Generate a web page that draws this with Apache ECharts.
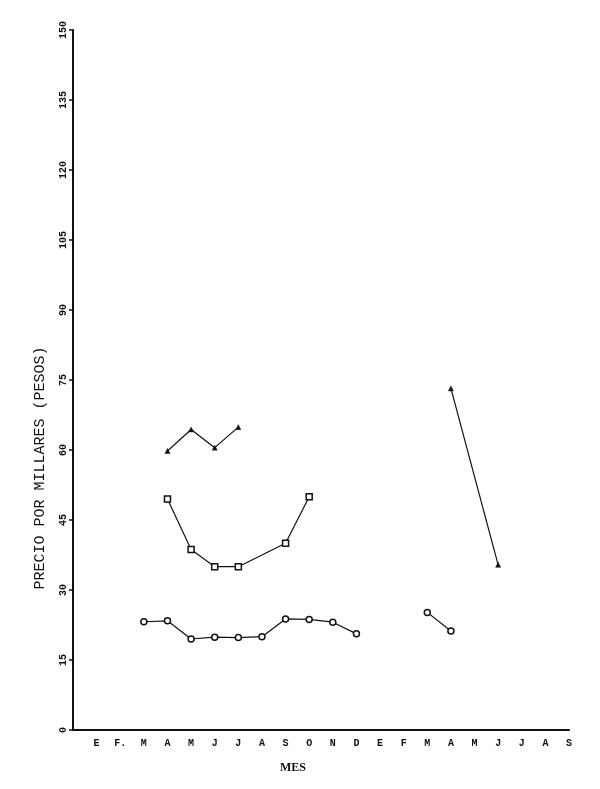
<!DOCTYPE html>
<html>
<head>
<meta charset="utf-8">
<script src="https://cdn.jsdelivr.net/npm/echarts@6/dist/echarts.min.js"></script>
<style>html,body{margin:0;padding:0;background:#fff}#c{width:600px;height:789px}</style>
</head>
<body>
<div id="c"></div>
<script>
const months = ['', 'E', 'F.', 'M', 'A', 'M', 'J', 'J', 'A', 'S', 'O', 'N', 'D', 'E', 'F', 'M', 'A', 'M', 'J', 'J', 'A', 'S'];
const yTicks = [0, 15, 30, 45, 60, 75, 90, 105, 120, 135, 150];
const circlesYear1 = [null, null, null, 23.2, 23.4, 19.5, 19.9, 19.8, 20.0, 23.8, 23.7, 23.1, 20.6, null, null, null, null, null, null, null, null, null];
const circlesYear2 = [null, null, null, null, null, null, null, null, null, null, null, null, null, null, null, 25.2, 21.2, null, null, null, null, null];
const squares = [null, null, null, null, 49.5, 38.7, 35.0, 35.0, null, 40.0, 50.0, null, null, null, null, null, null, null, null, null, null, null];
const trianglesYear1 = [null, null, null, null, 59.8, 64.4, 60.5, 64.9, null, null, null, null, null, null, null, null, null, null, null, null, null, null];
const trianglesYear2 = [null, null, null, null, null, null, null, null, null, null, null, null, null, null, null, null, 73.2, null, 35.4, null, null, null];

const chart = echarts.init(document.getElementById('c'));
const lineBase = {
  type: 'line',
  lineStyle: { color: '#111', width: 1.2 },
  showSymbol: true,
  animation: false
};
const circleStyle = { symbol: 'circle', symbolSize: 6, itemStyle: { color: '#fff', borderColor: '#111', borderWidth: 1.5 } };
const squareStyle = { symbol: 'rect', symbolSize: 6, itemStyle: { color: '#fff', borderColor: '#111', borderWidth: 1.5 } };
const triStyle = { symbol: 'triangle', symbolSize: 5, itemStyle: { color: '#111', borderColor: '#111', borderWidth: 0.5 } };

chart.setOption({
  backgroundColor: '#fff',
  animation: false,
  grid: { left: 73, right: 31, top: 30, bottom: 59, containLabel: false },
  xAxis: {
    type: 'category',
    data: months,
    boundaryGap: false,
    axisLine: { lineStyle: { color: '#111', width: 2 } },
    axisTick: { show: false },
    axisLabel: { interval: 0, margin: 8, color: '#111', fontFamily: 'Liberation Mono', fontSize: 10, fontWeight: 'bold' },
    splitLine: { show: false }
  },
  yAxis: {
    type: 'value',
    min: yTicks[0],
    max: yTicks[yTicks.length - 1],
    interval: 15,
    axisLine: { show: true, lineStyle: { color: '#111', width: 2 } },
    axisTick: { show: true, length: 4, lineStyle: { color: '#111', width: 1.5 } },
    axisLabel: { rotate: 90, margin: 5, color: '#111', fontFamily: 'Liberation Mono', fontSize: 10, fontWeight: 'bold' },
    splitLine: { show: false }
  },
  graphic: [
    { type: 'text', x: 40, y: 468, rotation: Math.PI / 2,
      style: { text: 'PRECIO POR MILLARES (PESOS)', font: '15px "Liberation Mono"', fill: '#111', align: 'center', verticalAlign: 'middle' } },
    { type: 'text', x: 293, y: 768,
      style: { text: 'MES', font: 'bold 12px "Liberation Serif"', fill: '#111', align: 'center', verticalAlign: 'middle' } }
  ],
  series: [
    Object.assign({}, lineBase, circleStyle, { data: circlesYear1 }),
    Object.assign({}, lineBase, circleStyle, { data: circlesYear2 }),
    Object.assign({}, lineBase, squareStyle, { data: squares, connectNulls: true }),
    Object.assign({}, lineBase, triStyle, { data: trianglesYear1 }),
    Object.assign({}, lineBase, triStyle, { data: trianglesYear2, connectNulls: true })
  ]
});
</script>
</body>
</html>
